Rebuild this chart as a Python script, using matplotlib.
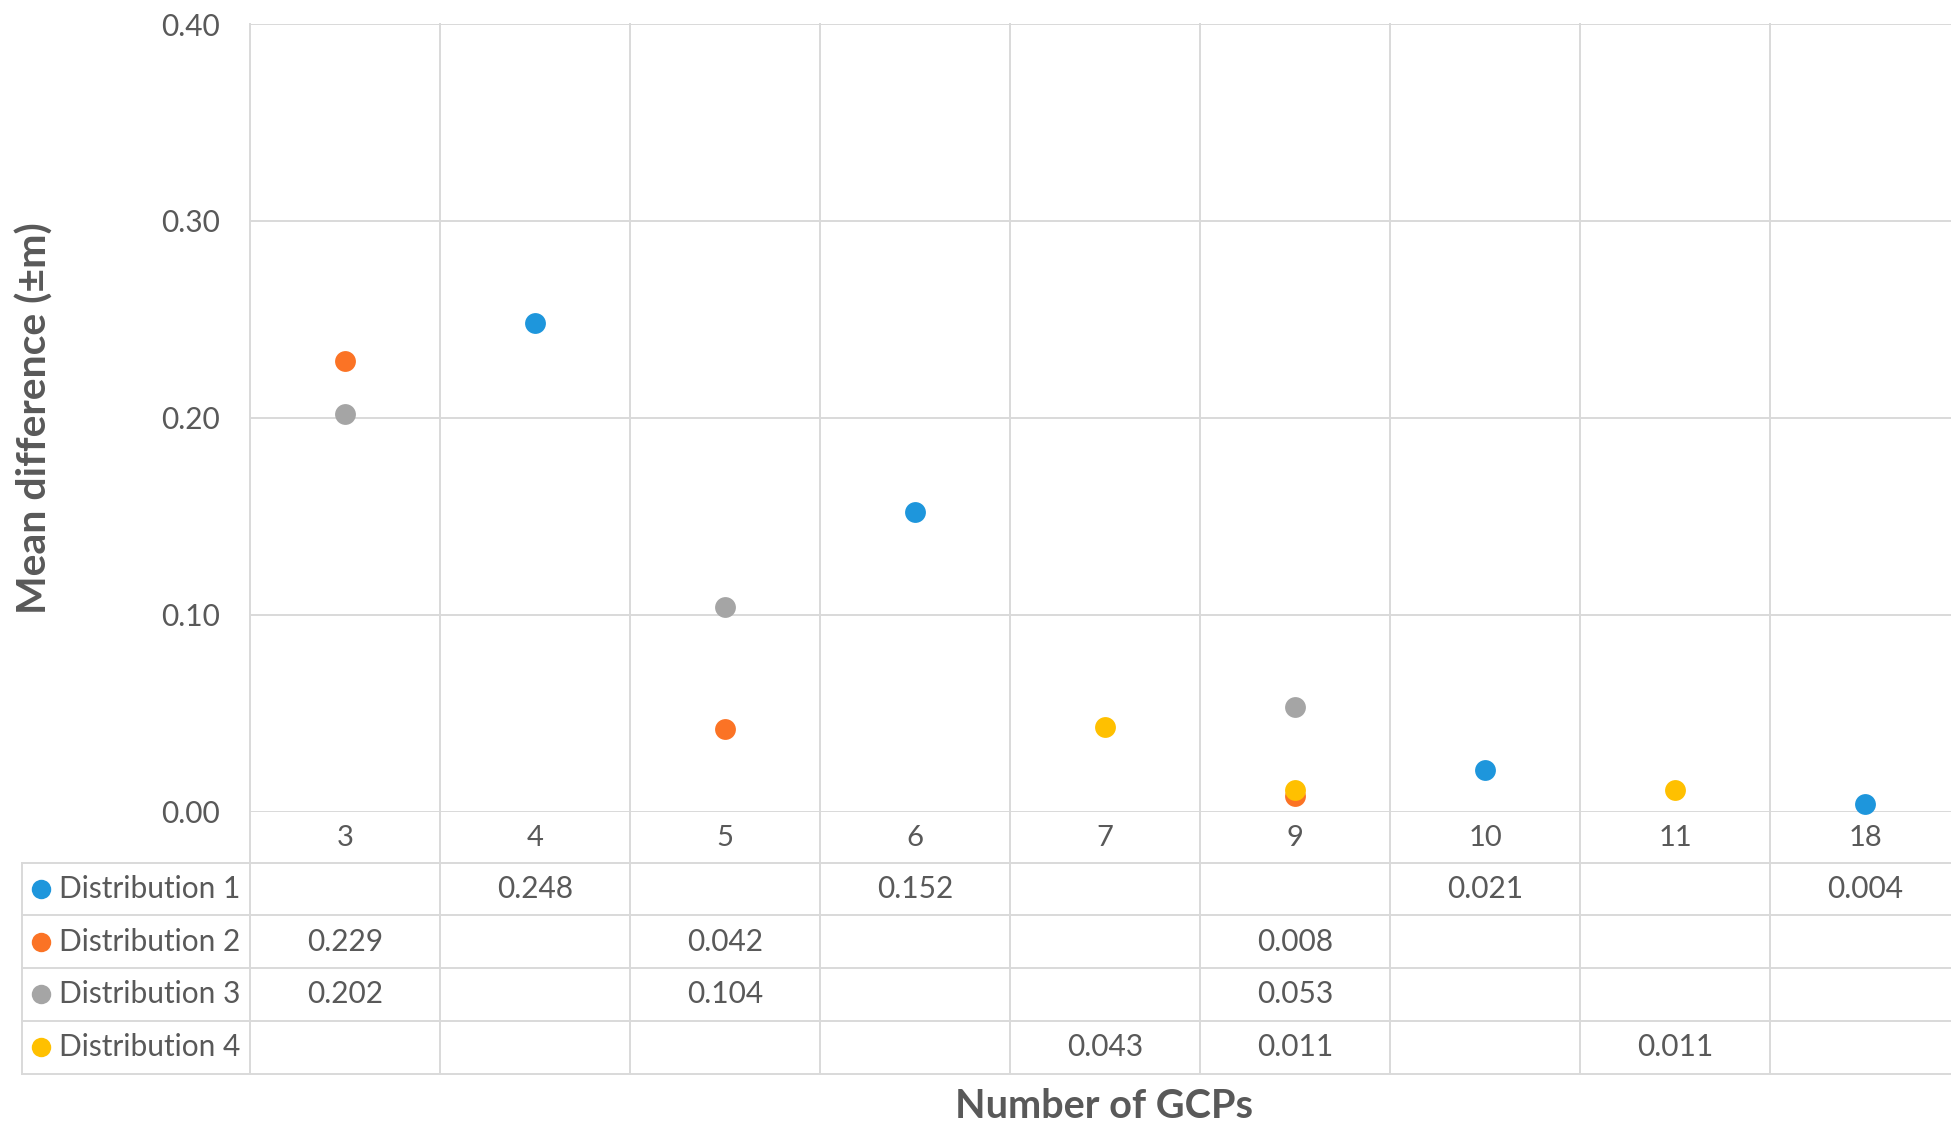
import matplotlib
matplotlib.use("Agg")
import matplotlib.pyplot as plt
from matplotlib.transforms import blended_transform_factory
import numpy as np

# Data
categories = ["3", "4", "5", "6", "7", "9", "10", "11", "18"]
series_names = ["Distribution 1", "Distribution 2", "Distribution 3", "Distribution 4"]
dist1 = [None, 0.248, None, 0.152, None, None, 0.021, None, 0.004]
dist2 = [0.229, None, 0.042, None, None, 0.008, None, None, None]
dist3 = [0.202, None, 0.104, None, None, 0.053, None, None, None]
dist4 = [None, None, None, None, 0.043, 0.011, None, 0.011, None]
y_ticks = [0.0, 0.1, 0.2, 0.3, 0.4]

series = [dist1, dist2, dist3, dist4]
colors = ["#1E96DC", "#FB7325", "#A5A5A5", "#FFC000"]

W, H = 1951, 1128
DPI = 100
plt.rcParams["font.family"] = ["Lato", "DejaVu Sans"]
text_color = "#595959"
grid_color = "#D9D9D9"

fig = plt.figure(figsize=(W / DPI, H / DPI), dpi=DPI)

# pixel layout
left_px, top_px, zero_px = 250, 24, 811.7
cell_w = 190
n = len(categories)
ax = fig.add_axes([left_px / W, 1 - zero_px / H, n * cell_w / W, (zero_px - top_px) / H])

x = np.arange(n)
for vals, c, name in zip(series, colors, series_names):
    xs = [xi for xi, v in zip(x, vals) if v is not None]
    ys = [v for v in vals if v is not None]
    ax.scatter(xs, ys, s=225, color=c, zorder=3, linewidths=0, label=name, clip_on=False)

ax.set_xlim(-0.5, n - 0.5)
ax.set_ylim(0, 0.40)
ax.set_yticks(y_ticks)
ax.set_yticklabels([f"{t:.2f}" for t in y_ticks], fontsize=21.5, color=text_color)
ax.tick_params(axis="y", length=0, pad=21.5)
ax.set_xticks([])
for s in ax.spines.values():
    s.set_visible(False)
ax.yaxis.grid(True, color=grid_color, linewidth=1.4)
ax.set_axisbelow(True)


def fy(py):
    return 1 - py / H


fig.text(35 / W, fy(418), "Mean difference (±m)", rotation=90, ha="center", va="center",
         fontsize=29.5, fontweight="bold", color=text_color)

# data table below the plot
tr = blended_transform_factory(ax.transData, fig.transFigure)
trf = fig.transFigure

cat_bottom = 862.7
row_edges = [862.7, 915.3, 967.9, 1020.5, 1074.0]
table_left = 21.7
table_bottom = row_edges[-1]
line_kw = dict(color=grid_color, linewidth=1.4, clip_on=False, zorder=1)

# vertical cell borders from plot top down to table bottom
for b in np.arange(-0.5, n + 0.5, 1.0):
    ax.plot([b, b], [fy(top_px), fy(table_bottom)], transform=tr, **line_kw)
# horizontal table borders
for ry in row_edges:
    fig.add_artist(plt.Line2D([table_left / W, 1.01], [fy(ry), fy(ry)], transform=trf, **line_kw))
fig.add_artist(plt.Line2D([table_left / W, table_left / W], [fy(row_edges[0]), fy(table_bottom)],
                          transform=trf, **line_kw))

# category labels
for xi, lab in zip(x, categories):
    ax.text(xi, fy((zero_px + cat_bottom) / 2 + 1), lab, transform=tr, ha="center", va="center",
            fontsize=21, color=text_color)

# series rows
for r, (vals, c, name) in enumerate(zip(series, colors, series_names)):
    yc = fy((row_edges[r] + row_edges[r + 1]) / 2)
    fig.add_artist(plt.Line2D([41 / W], [yc], marker="o", markersize=14, color=c,
                              markeredgewidth=0, transform=trf))
    fig.text(59 / W, yc, name, ha="left", va="center", fontsize=21.5, color=text_color)
    for xi, v in zip(x, vals):
        if v is not None:
            ax.text(xi, yc, f"{v:.3f}", transform=tr, ha="center", va="center",
                    fontsize=21.5, color=text_color)

fig.text(1104 / W, fy(1106), "Number of GCPs", ha="center", va="center",
         fontsize=28.5, fontweight="bold", color=text_color)

fig.savefig("out.png", dpi=DPI, facecolor="white")
